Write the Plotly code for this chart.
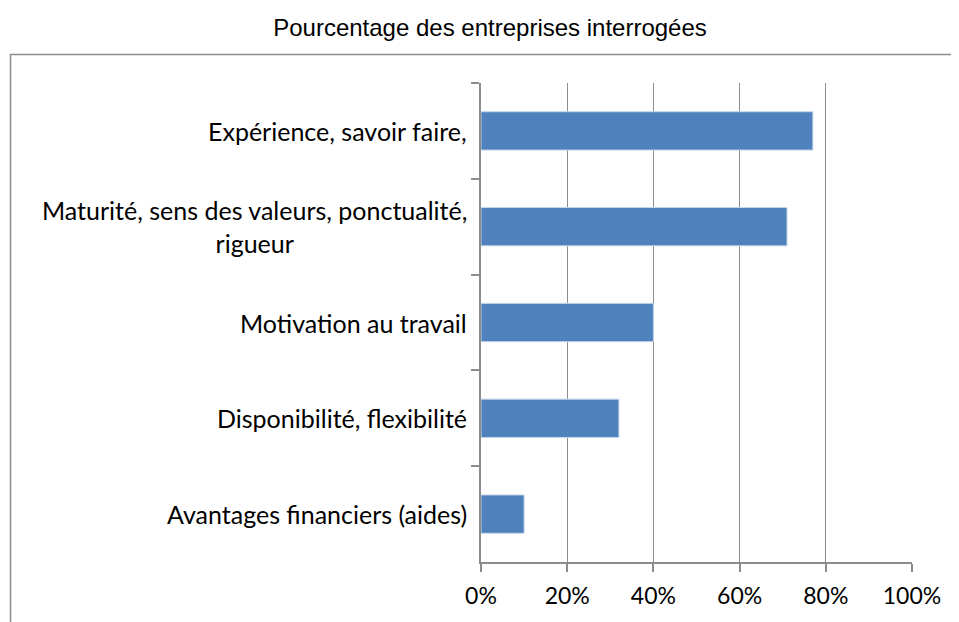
import plotly.graph_objects as go

categories = [
    "Expérience, savoir faire,",
    "Maturité, sens des valeurs, ponctualité,<br>rigueur",
    "Motivation au travail",
    "Disponibilité, flexibilité",
    "Avantages financiers (aides)",
]
values = [0.77, 0.71, 0.40, 0.32, 0.10]
tick_vals = [0, 0.2, 0.4, 0.6, 0.8, 1.0]
tick_text = ["0%", "20%", "40%", "60%", "80%", "100%"]
title_text = "Pourcentage des entreprises interrogées"

W, H = 959, 622
OFF = 8  # default page body margin
PL, PT, PW, PH = 481, 83, 431, 479  # visual plot area
L, T = PL - OFF, PT - OFF
R = W - L - PW
B = H - T - PH

fig = go.Figure(go.Bar(
    x=values, y=categories, orientation="h",
    marker=dict(color="#4F81BD", line=dict(color="#C6D6EA", width=1)),
    width=0.4,
))

for c in categories:
    fig.add_annotation(
        x=0, y=c, xref="x", yref="y", text=c, showarrow=False,
        xanchor="right", yanchor="middle", align="center", xshift=-12,
        font=dict(family="Lato, Open Sans, sans-serif", size=25, color="#000"),
    )

def px2paper_x(px):
    return (px - PL) / PW

def px2paper_y(py):
    return 1 - (py - PT) / PH

fig.add_shape(type="rect", xref="paper", yref="paper",
              x0=px2paper_x(10.5), x1=px2paper_x(975), y0=px2paper_y(640), y1=px2paper_y(54.5),
              line=dict(color="#8C8C8C", width=1.5), fillcolor="rgba(0,0,0,0)", layer="below")

fig.update_layout(
    width=W, height=H,
    margin=dict(l=L, r=R, t=T, b=B),
    paper_bgcolor="white", plot_bgcolor="white",
    showlegend=False,
    title=dict(text=title_text, x=(490 - OFF) / W, xanchor="center", y=1 - (28 - OFF) / H, yanchor="middle",
               xref="container", yref="container",
               font=dict(family="Liberation Sans, Arial, sans-serif", size=24, color="#000")),
    xaxis=dict(
        range=[0, 1], tickvals=tick_vals, ticktext=tick_text,
        showgrid=True, gridcolor="#8C8C8C", gridwidth=1,
        showline=True, linecolor="#8C8C8C", linewidth=1.5,
        ticks="outside", ticklen=8, tickcolor="#8C8C8C", tickwidth=1.5,
        ticklabelstandoff=5,
        tickfont=dict(family="Lato, Open Sans, sans-serif", size=23, color="#000"),
        zeroline=False, fixedrange=True,
    ),
    yaxis=dict(
        autorange="reversed", type="category",
        showticklabels=False,
        showline=True, linecolor="#8C8C8C", linewidth=1.5,
        ticks="outside", ticklen=8, tickcolor="#8C8C8C", tickwidth=1.5,
        tickson="boundaries", showgrid=False, zeroline=False,
    ),
)

fig.write_html("out.html")
